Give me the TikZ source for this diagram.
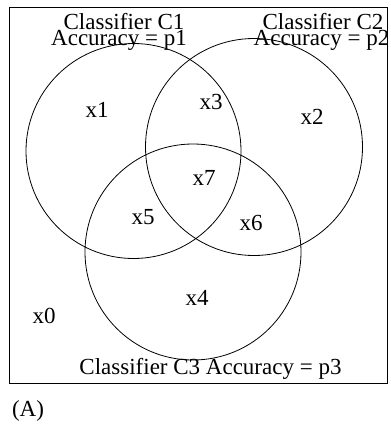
\documentclass[tikz,border=0pt]{standalone}
\usepackage{fontspec}
\setmainfont{Liberation Serif}
\begin{document}
\begin{tikzpicture}[x=1pt,y=-1pt,
  lbl/.style={inner sep=0pt,anchor=base,font=\fontsize{23}{26}\selectfont},
  venn/.style={circle,draw,line width=0.8pt,inner sep=0pt}]
\useasboundingbox (0,0) rectangle (391,426);
\node[draw,line width=1pt,minimum width=378pt,minimum height=376pt,inner sep=0pt,anchor=north west] (frame) at (9,7) {};
\node[venn,minimum size=215pt] (c1) at (133.5,151) {};
\node[venn,minimum size=217pt] (c2) at (254,147) {};
\node[venn,minimum size=216pt] (c3) at (193,252) {};
\node[lbl] (t1a) at (124,29) {Classifier C1};
\node[lbl] (t1b) at (119,45) {Accuracy = p1};
\node[lbl] (t2a) at (323,29) {Classifier C2};
\node[lbl] (t2b) at (321.5,45) {Accuracy = p2};
\node[lbl] (t3) at (210.5,374) {Classifier C3 Accuracy = p3};
\node[lbl] (x1) at (97,117) {x1};
\node[lbl] (x3) at (211,109) {x3};
\node[lbl] (x2) at (312,124) {x2};
\node[lbl] (x7) at (204,185) {x7};
\node[lbl] (x5) at (143,224) {x5};
\node[lbl] (x6) at (251,230) {x6};
\node[lbl] (x4) at (197,305) {x4};
\node[lbl] (x0) at (44,323) {x0};
\node[lbl] (A) at (28,416) {(A)};
\end{tikzpicture}
\end{document}
